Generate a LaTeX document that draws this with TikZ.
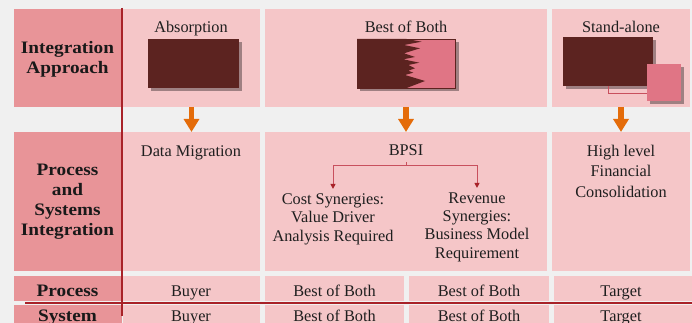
\documentclass[tikz,border=0pt]{standalone}
\usepackage{fontspec}
\setmainfont{Liberation Serif}
\newfontfamily\hdfont[FakeStretch=1.1]{Liberation Serif}
\usetikzlibrary{arrows.meta,shadows}
\definecolor{bg}{HTML}{F0F0F0}
\definecolor{hdr}{HTML}{E89498}
\definecolor{cellc}{HTML}{F5C6C8}
\definecolor{darkb}{HTML}{5C2320}
\definecolor{pinkb}{HTML}{E07585}
\definecolor{redl}{HTML}{A82228}
\definecolor{orng}{HTML}{E46C0A}
\definecolor{connc}{HTML}{C8505E}
\begin{document}
\begin{tikzpicture}[x=1pt,y=-1pt,
  box/.style={draw=none, inner sep=0pt, outer sep=0pt, anchor=north west},
  hdrbox/.style={box, fill=hdr},
  cellbox/.style={box, fill=cellc},
  shad/.style={drop shadow={shadow xshift=3pt, shadow yshift=-3pt, fill=black, opacity=0.35}},
  darkbox/.style={box, fill=darkb, shad},
  pinkbox/.style={box, fill=pinkb, shad},
  txt/.style={font=\fontsize{16.3}{18.4}\selectfont, inner sep=0pt, align=center, text=black!88, anchor=base},
  hdtxt/.style={font=\hdfont\bfseries\fontsize{17.5}{20.2}\selectfont, inner sep=0pt, align=center, text=black!90, anchor=base},
  orngarrow/.style={draw=orng, line width=5.5pt, -{Triangle[width=15pt,length=13pt]}},
  connline/.style={draw=connc, line width=1pt},
  connarrow/.style={connline, -{Triangle[width=5pt,length=5pt,color=redl]}}
]
\fill[bg] (0,0) rectangle (692,323);
\useasboundingbox (0,0) rectangle (692,323);

% header boxes
\node[hdrbox, minimum width=108pt, minimum height=98pt] (h1) at (14,9) {};
\node[hdrbox, minimum width=108pt, minimum height=139pt] (h2) at (14,132) {};
\node[hdrbox, minimum width=108pt, minimum height=25pt] (h3) at (14,276) {};
\node[hdrbox, minimum width=108pt, minimum height=25pt] (h4) at (14,305) {};

% row 1
\node[cellbox, minimum width=137pt, minimum height=98pt] (c11) at (123,9) {};
\node[cellbox, minimum width=282pt, minimum height=98pt] (c12) at (265,9) {};
\node[cellbox, minimum width=138pt, minimum height=98pt] (c13) at (552,9) {};
% row 2
\node[cellbox, minimum width=137pt, minimum height=139pt] (c21) at (123,132) {};
\node[cellbox, minimum width=282pt, minimum height=139pt] (c22) at (265,132) {};
\node[cellbox, minimum width=138pt, minimum height=139pt] (c23) at (552,132) {};
% row 3
\node[cellbox, minimum width=137pt, minimum height=25pt] (c31) at (123,276) {};
\node[cellbox, minimum width=139pt, minimum height=25pt] (c32) at (265,276) {};
\node[cellbox, minimum width=140pt, minimum height=25pt] (c33) at (409,276) {};
\node[cellbox, minimum width=138pt, minimum height=25pt] (c34) at (554,276) {};
% row 4
\node[cellbox, minimum width=137pt, minimum height=25pt] (c41) at (123,305) {};
\node[cellbox, minimum width=139pt, minimum height=25pt] (c42) at (265,305) {};
\node[cellbox, minimum width=140pt, minimum height=25pt] (c43) at (409,305) {};
\node[cellbox, minimum width=138pt, minimum height=25pt] (c44) at (554,305) {};

% red lines
\draw[redl, line width=2.6pt] (122,8) -- (122,316);
\draw[redl, line width=2.2pt] (25,303) -- (692,303);

% icons
\node[darkbox, minimum width=91pt, minimum height=49pt] (ab) at (148,39) {};
\node[pinkbox, draw=darkb, line width=0.6pt, minimum width=98.7pt, minimum height=49pt] (bb) at (357,39) {};
\fill[darkb] (357,39) -- (406.7,39) -- (421.7,41.7) -- (404,45) -- (420,48.3) -- (404,53.3)
  -- (415,57) -- (403.3,59.3) -- (419.3,62.7) -- (408.3,65) -- (415,68.3) -- (408.3,70.7)
  -- (413.3,72.7) -- (405,75) -- (425,81) -- (406.7,88) -- (357,88) -- cycle;
\node[darkbox, minimum width=90pt, minimum height=49pt] (sa1) at (563,37) {};
\node[pinkbox, minimum width=34pt, minimum height=37pt] (sa2) at (647,64) {};
\draw[connline, line width=0.9pt] (sa1.south) |- ([yshift=-10.8pt]sa2.west);
\fill[pinkb] (sa2.north west) rectangle (sa2.south east);

% texts row 1
\node[hdtxt] (t1) at (67.5,73.3) {Integration\\Approach};
\node[txt] (tab) at (191,32.5) {Absorption};
\node[txt] (tbb) at (406,32.5) {Best of Both};
\node[txt] (tsa) at (621,32.5) {Stand-alone};

% arrows
\draw[orngarrow] (c11.south) -- (c21.north);
\draw[orngarrow] (c12.south) -- (c22.north);
\draw[orngarrow] (c13.south) -- (c23.north);

% texts row 2
\node[hdtxt] (t2) at (67.5,235.7) {Process\\and\\Systems\\Integration};
\node[txt] (dm) at (191,156.7) {Data Migration};
\node[txt, outer sep=6pt] (bpsi) at (406,156) {BPSI};
\node[txt, font=\fontsize{16.3}{20.6}\selectfont] (hl) at (621,197.3) {High level\\Financial\\Consolidation};
\node[txt, outer sep=4.5pt] (cost) at (333,241) {Cost Synergies:\\Value Driver\\Analysis Required};
\node[txt, outer sep=4.5pt] (rev) at (477,258.3) {Revenue\\Synergies:\\Business Model\\Requirement};
\coordinate (bj) at (406,165.7);
\draw[connline] (bpsi.south) -- (bj);
\draw[connarrow] (bj) -| (cost.north);
\draw[connarrow] (bj) -| (rev.north);

% rows 3-4
\node[hdtxt] (t3) at (67.5,296) {Process};
\node[hdtxt] (t4) at (67.5,321) {System};
\node[txt] (p1) at (191,296) {Buyer};
\node[txt] (p2) at (334.5,296) {Best of Both};
\node[txt] (p3) at (479,296) {Best of Both};
\node[txt] (p4) at (621,296) {Target};
\node[txt] (s1) at (191,321) {Buyer};
\node[txt] (s2) at (334.5,321) {Best of Both};
\node[txt] (s3) at (479,321) {Best of Both};
\node[txt] (s4) at (621,321) {Target};
\end{tikzpicture}
\end{document}
